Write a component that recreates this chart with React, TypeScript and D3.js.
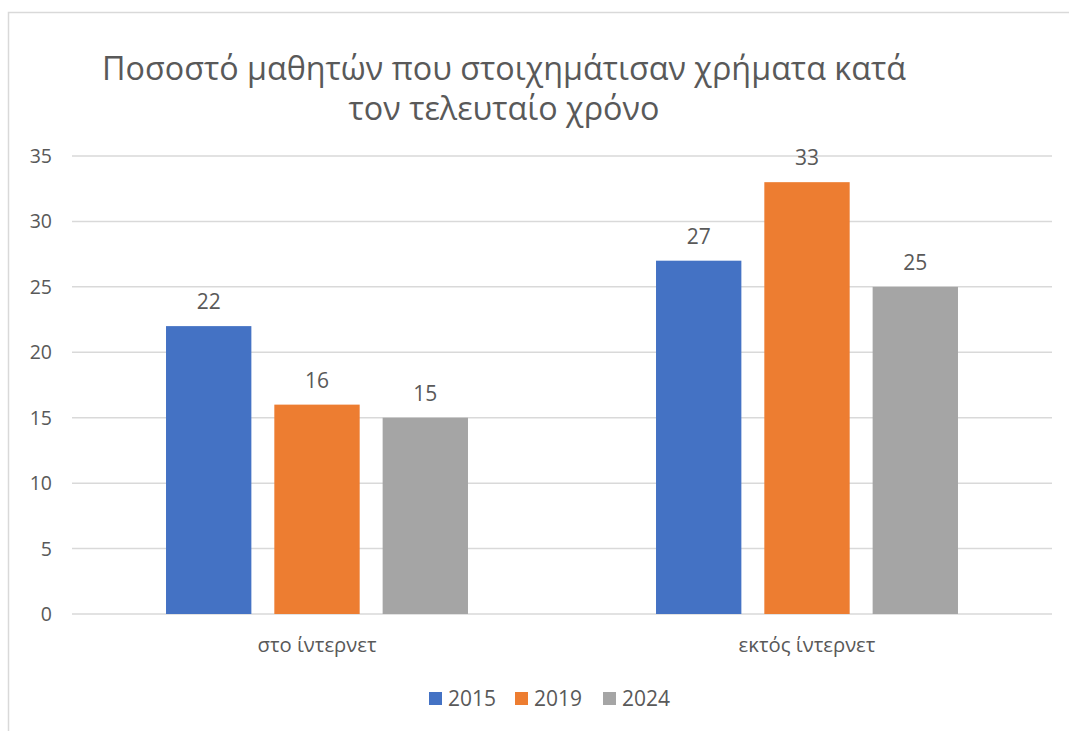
import React from "react";
import * as d3 from "d3";

const categories = ["στο ίντερνετ", "εκτός ίντερνετ"];
const seriesNames = ["2015", "2019", "2024"];
const values2015 = [22, 27];
const values2019 = [16, 33];
const values2024 = [15, 25];
const yTicks = [0, 5, 10, 15, 20, 25, 30, 35];
const titleLines = ["Ποσοστό μαθητών που στοιχημάτισαν χρήματα κατά", "τον τελευταίο χρόνο"];
const colors = ["#4472C4", "#ED7D31", "#A5A5A5"];

const W = 1069;
const H = 731;
const FONT = "'Open Sans', 'Noto Sans', sans-serif";
const TEXT = "#595959";

export default function App() {
  const seriesValues = [values2015, values2019, values2024];
  const plotLeft = 72;
  const plotRight = 1052;
  const yScale = d3.scaleLinear().domain([0, 35]).range([614, 156]);
  const x0 = d3.scaleBand<string>().domain(categories).range([plotLeft, plotRight]).padding(0);
  const x1 = d3
    .scaleBand<string>()
    .domain(seriesNames)
    .range([0, x0.bandwidth()])
    .paddingInner(0.212)
    .paddingOuter(0.868);

  const legendItems = [
    { name: seriesNames[0], x: 429 },
    { name: seriesNames[1], x: 515 },
    { name: seriesNames[2], x: 603 },
  ];

  return (
    <div style={{ position: "absolute", left: 0, top: 0, width: W, height: H, overflow: "hidden", background: "#fff" }}>
      <svg width={W} height={H} style={{ display: "block" }} fontFamily={FONT}>
        <rect x={0} y={0} width={W} height={H} fill="#fff" />
        <rect x={8.5} y={12.5} width={1100} height={800} fill="none" stroke="#d9d9d9" strokeWidth={1.5} />
        {titleLines.map((t, i) => (
          <text key={i} x={504} y={80 + i * 40} textAnchor="middle" fontSize={32.3} fill={TEXT}>
            {t}
          </text>
        ))}
        {yTicks.map((t) => (
          <g key={t}>
            <line x1={plotLeft} x2={plotRight} y1={yScale(t)} y2={yScale(t)} stroke="#d9d9d9" strokeWidth={1.5} />
            <text x={52} y={yScale(t) + 7} textAnchor="end" fontSize={19.5} fill={TEXT}>
              {t}
            </text>
          </g>
        ))}
        {categories.map((c, ci) => (
          <g key={c} transform={`translate(${x0(c)},0)`}>
            {seriesNames.map((s, si) => {
              const v = seriesValues[si][ci];
              const bx = x1(s)!;
              const bw = x1.bandwidth();
              return (
                <g key={s}>
                  <rect x={bx} y={yScale(v)} width={bw} height={yScale(0) - yScale(v)} fill={colors[si]} />
                  <text x={bx + bw / 2} y={yScale(v) - 17} textAnchor="middle" fontSize={21} fill={TEXT}>
                    {v}
                  </text>
                </g>
              );
            })}
            <text x={x0.bandwidth() / 2} y={652} textAnchor="middle" fontSize={20.3} fill={TEXT}>
              {c}
            </text>
          </g>
        ))}
        {legendItems.map((l, i) => (
          <g key={l.name}>
            <rect x={l.x} y={692} width={13} height={13} fill={colors[i]} />
            <text x={l.x + 19} y={705.5} fontSize={21} fill={TEXT}>
              {l.name}
            </text>
          </g>
        ))}
      </svg>
    </div>
  );
}
